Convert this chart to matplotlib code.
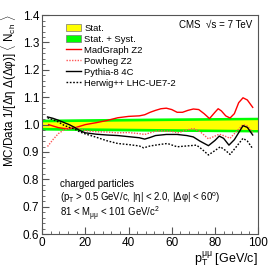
import matplotlib
matplotlib.use("Agg")
import matplotlib.pyplot as plt
from matplotlib.patches import Patch
from matplotlib.lines import Line2D
from matplotlib.ticker import MultipleLocator

plt.rcParams['font.family'] = ['Liberation Sans', 'DejaVu Sans']
plt.rcParams['mathtext.fontset'] = 'custom'
plt.rcParams['mathtext.rm'] = 'Liberation Sans'
plt.rcParams['mathtext.it'] = 'Liberation Sans'
plt.rcParams['mathtext.bf'] = 'Liberation Sans:bold'

# uncertainty bands around data (ratio = 1)
band_pt = [0, 50, 100]
stat_err = [0.010, 0.014, 0.018]
syst_err = [0.020, 0.024, 0.027]

mg_pt = [3, 5, 7.5, 10, 12.5, 15, 17.5, 20, 25, 30, 35, 40, 45, 47.5, 50, 52.5, 55, 57.5,
         60, 62.5, 65, 67.5, 70, 72.5, 75, 77.5, 80, 81.5, 83, 85, 87, 89, 91, 93, 95, 97.5]
mg_val = [1.000, 0.995, 0.989, 0.986, 0.985, 0.988, 0.994, 1.000, 1.007, 1.015, 1.025, 1.030,
          1.032, 1.036, 1.045, 1.052, 1.058, 1.060, 1.055, 1.045, 1.045, 1.052, 1.057, 1.055,
          1.040, 1.022, 1.045, 1.058, 1.050, 1.032, 1.024, 1.040, 1.080, 1.098, 1.090, 1.063]

pw_pt = [2.5, 5, 7.5, 10, 12.5, 15, 17.5, 20, 25, 30, 35, 40, 45, 47.5, 50, 52.5, 55, 60,
         63, 66, 70, 73, 77, 80, 82, 84, 87, 90, 93, 95, 97.5]
pw_val = [0.920, 0.945, 0.967, 0.980, 0.987, 0.990, 0.985, 0.978, 0.974, 0.973, 0.970, 0.971,
          0.967, 0.964, 0.970, 0.976, 0.977, 0.975, 0.970, 0.978, 0.986, 0.975, 0.948, 0.958,
          0.965, 0.960, 0.950, 0.975, 1.000, 0.995, 0.972]

py_pt = [2.5, 5, 7.5, 10, 12.5, 15, 17.5, 20, 25, 30, 35, 40, 45, 47.5, 50, 52.5, 57.5, 62.5,
         67, 70, 73, 77, 80, 82, 84, 86.5, 89, 93, 95, 97.5]
py_val = [1.028, 1.023, 1.016, 1.008, 1.000, 0.990, 0.978, 0.970, 0.965, 0.962, 0.960, 0.956,
          0.952, 0.947, 0.953, 0.960, 0.964, 0.964, 0.960, 0.955, 0.940, 0.923, 0.942, 0.958,
          0.950, 0.925, 0.945, 0.996, 0.990, 0.962]

hw_pt = [2.5, 5, 7.5, 10, 12.5, 15, 17.5, 20, 25, 30, 35, 40, 45, 47, 50, 55, 58, 62.5, 67,
         71.5, 74, 77, 80, 82.5, 85, 87, 90, 93, 95, 97.5]
hw_val = [1.025, 1.018, 1.010, 0.998, 0.990, 0.984, 0.973, 0.966, 0.954, 0.941, 0.931, 0.927,
          0.922, 0.915, 0.922, 0.928, 0.931, 0.919, 0.922, 0.925, 0.910, 0.889, 0.905, 0.919,
          0.905, 0.891, 0.920, 0.950, 0.940, 0.912]

fig = plt.figure(figsize=(2.7, 2.7), dpi=100)
ax = fig.add_axes([0.156, 0.133, 0.8, 0.811])

lo_s = [1 - e for e in syst_err]
hi_s = [1 + e for e in syst_err]
lo_t = [1 - e for e in stat_err]
hi_t = [1 + e for e in stat_err]
ax.fill_between(band_pt, lo_s, hi_s, color='#00ff00', lw=0)
ax.fill_between(band_pt, lo_t, hi_t, color='#ffff00', lw=0)

ax.plot(mg_pt, mg_val, color='#ff0000', lw=1.0)
ax.plot(pw_pt, pw_val, color='#ff5555', lw=1.0, ls=(0, (1, 1)))
ax.plot(py_pt, py_val, color='black', lw=1.0)
ax.plot(hw_pt, hw_val, color='black', lw=1.0, ls=(0, (1.2, 1.2)))

ax.set_xlim(0, 100)
ax.set_ylim(0.6, 1.4)
ax.xaxis.set_major_locator(MultipleLocator(20))
ax.xaxis.set_minor_locator(MultipleLocator(4))
ax.yaxis.set_major_locator(MultipleLocator(0.1))
ax.yaxis.set_minor_locator(MultipleLocator(0.02))
ax.tick_params(direction='in', which='major', length=5, labelsize=8.5, width=0.8,
               color='#555555', pad=2)
ax.tick_params(direction='in', which='minor', length=2.5, width=0.6, color='#555555')
ax.set_xticks([0, 20, 40, 60, 80, 100])
ax.set_xticklabels(['0', '20', '40', '60', '80', '100'])
for s in ax.spines.values():
    s.set_color('#555555')
    s.set_linewidth(0.8)

handles = [
    Patch(facecolor='#ffff00', edgecolor='#777777', lw=0.5),
    Patch(facecolor='#00ff00', edgecolor='#777777', lw=0.5),
    Line2D([], [], color='#ff0000', lw=1.0),
    Line2D([], [], color='#ff5555', lw=1.0, ls=(0, (1, 1))),
    Line2D([], [], color='black', lw=1.0),
    Line2D([], [], color='black', lw=1.0, ls=(0, (1.2, 1.2))),
]
labels = ['Stat.', 'Stat. + Syst.', 'MadGraph Z2', 'Powheg Z2', 'Pythia-8 4C',
          'Herwig++ LHC-UE7-2']
ax.legend(handles, labels, loc='upper left', bbox_to_anchor=(0.085, 0.985), frameon=False,
          fontsize=6.8, handlelength=1.6, handleheight=0.8, handletextpad=0.3,
          labelspacing=0.2, borderpad=0.1)

ax.text(0.972, 0.954, 'CMS  \u221as = 7 TeV', transform=ax.transAxes, ha='right',
        va='center', fontsize=7)
ax.text(0.083, 0.228, 'charged particles', transform=ax.transAxes, ha='left',
        va='center', fontsize=7)
ax.text(0.083, 0.167, '(p$_{T}$ > 0.5 GeV/c, |\u03b7| < 2.0, |\u0394\u03c6| < 60$^{o}$)',
        transform=ax.transAxes, ha='left', va='center', fontsize=6.9)
ax.text(0.083, 0.091, '81 < M$_{\u03bc\u03bc}$ < 101 GeV/c$^{2}$', transform=ax.transAxes,
        ha='left', va='center', fontsize=6.9)

fig.text(258 / 270, 1 - 259 / 270, 'p$_{T}^{\u03bc\u03bc}$ [GeV/c]', ha='right',
         va='center', fontsize=9)
fig.text(9 / 270, 1 - 14 / 270,
         'MC/Data 1/[\u0394\u03b7 \u0394(\u0394\u03c6)] $\\langle$ N$_{ch}$ $\\rangle$',
         rotation=90, ha='center', va='top', fontsize=8.4)

fig.savefig('out.png', dpi=100)
